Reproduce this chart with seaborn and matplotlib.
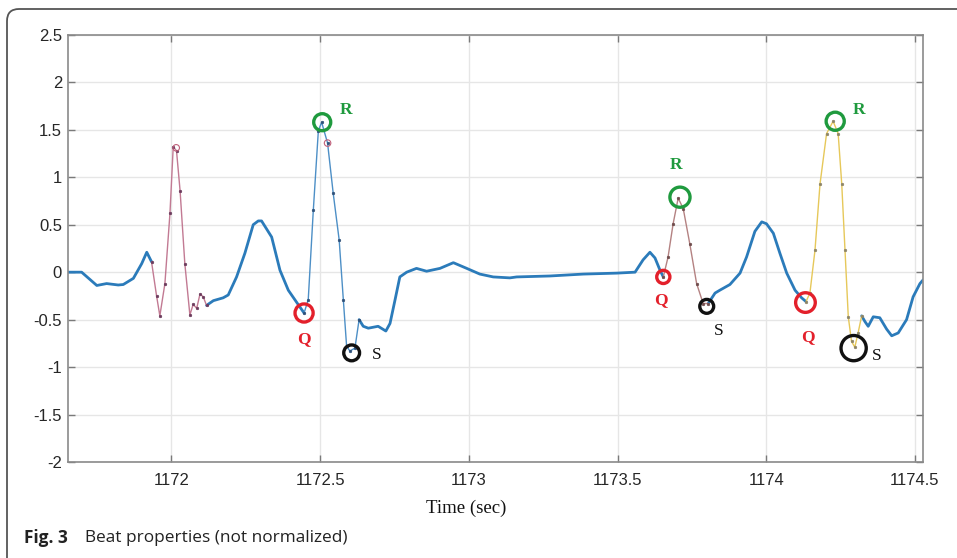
import numpy as np
import pandas as pd
import seaborn as sns
import matplotlib.pyplot as plt
from matplotlib.patches import FancyBboxPatch

# ECG trace
time_sec = [1171.653, 1171.698, 1171.749, 1171.782, 1171.821, 1171.838, 1171.872, 1171.900,
            1171.917, 1171.933, 1171.950, 1171.961, 1171.978, 1171.995, 1172.006, 1172.017,
            1172.029, 1172.045, 1172.062, 1172.073, 1172.085, 1172.096, 1172.107, 1172.118,
            1172.141, 1172.174, 1172.191, 1172.219, 1172.247, 1172.275, 1172.292, 1172.303,
            1172.337, 1172.365, 1172.393, 1172.426, 1172.446, 1172.460, 1172.477, 1172.494,
            1172.505, 1172.525, 1172.544, 1172.564, 1172.578, 1172.589, 1172.600, 1172.617,
            1172.631, 1172.645, 1172.662, 1172.695, 1172.721, 1172.735, 1172.752, 1172.768,
            1172.791, 1172.824, 1172.858, 1172.903, 1172.948, 1172.993, 1173.037, 1173.082,
            1173.138, 1173.161, 1173.273, 1173.385, 1173.497, 1173.559, 1173.586, 1173.609,
            1173.626, 1173.643, 1173.654, 1173.670, 1173.687, 1173.704, 1173.721, 1173.743,
            1173.766, 1173.788, 1173.805, 1173.828, 1173.844, 1173.878, 1173.912, 1173.934,
            1173.962, 1173.985, 1174.001, 1174.024, 1174.046, 1174.069, 1174.097, 1174.119,
            1174.134, 1174.147, 1174.164, 1174.181, 1174.203, 1174.225, 1174.242, 1174.254,
            1174.265, 1174.276, 1174.287, 1174.298, 1174.309, 1174.321, 1174.332, 1174.343,
            1174.360, 1174.382, 1174.405, 1174.422, 1174.444, 1174.472, 1174.494, 1174.517,
            1174.528]
amplitude = [0.00, 0.00, -0.14, -0.12, -0.135, -0.13, -0.065, 0.09,
             0.21, 0.11, -0.25, -0.46, -0.12, 0.62, 1.32, 1.28,
             0.86, 0.09, -0.45, -0.34, -0.38, -0.23, -0.26, -0.35,
             -0.30, -0.27, -0.24, -0.05, 0.20, 0.50, 0.54, 0.54,
             0.37, 0.02, -0.19, -0.34, -0.43, -0.29, 0.65, 1.49,
             1.58, 1.36, 0.83, 0.34, -0.29, -0.78, -0.83, -0.80,
             -0.50, -0.57, -0.59, -0.57, -0.62, -0.54, -0.29, -0.05,
             0.00, 0.04, 0.01, 0.04, 0.10, 0.04, -0.02, -0.05,
             -0.06, -0.05, -0.04, -0.02, -0.01, 0.00, 0.13, 0.21,
             0.15, 0.02, -0.05, 0.16, 0.51, 0.78, 0.67, 0.30,
             -0.12, -0.33, -0.33, -0.22, -0.19, -0.13, -0.01, 0.16,
             0.43, 0.53, 0.51, 0.41, 0.20, -0.01, -0.19, -0.27,
             -0.31, -0.22, 0.23, 0.93, 1.46, 1.59, 1.46, 0.93,
             0.23, -0.47, -0.73, -0.79, -0.64, -0.46, -0.52, -0.57,
             -0.47, -0.48, -0.60, -0.67, -0.64, -0.50, -0.26, -0.12,
             -0.08]

# QRS windows of the four beats
qrs_start = [1171.933, 1172.446, 1173.654, 1174.134]
qrs_end = [1172.118, 1172.631, 1173.805, 1174.321]

# detected Q, R, S points (beats 2-4)
q_time = [1172.446, 1173.654, 1174.132]
q_amp = [-0.43, -0.05, -0.32]
r_time = [1172.507, 1173.710, 1174.232]
r_amp = [1.58, 0.79, 1.59]
s_time = [1172.606, 1173.800, 1174.294]
s_amp = [-0.85, -0.36, -0.80]

# small peak markers
pk_time = [1172.016, 1172.525]
pk_amp = [1.31, 1.36]

x_ticks = [1172, 1172.5, 1173, 1173.5, 1174, 1174.5]
y_ticks = [-2, -1.5, -1, -0.5, 0, 0.5, 1, 1.5, 2, 2.5]

sns.set_style("whitegrid")
plt.rcParams['font.family'] = ['Liberation Sans', 'DejaVu Sans']
plt.rcParams['axes.unicode_minus'] = False

df = pd.DataFrame({'t': time_sec, 'amp': amplitude})

fig = plt.figure(figsize=(9.57, 5.58), dpi=100)
ax = fig.add_axes([0.0707, 0.172, 0.894, 0.7655])

blue = '#2b7bba'
qrs_colors = ['#c27a93', '#4d8fc6', '#b48282', '#e6c85a']
dot_colors = ['#6b3a5c', '#2d4f78', '#6e4b4b', '#8c8466']

# baseline pieces between the QRS windows
bounds = [df.t.min()] + [v for pair in zip(qrs_start, qrs_end) for v in pair] + [df.t.max()]
for lo, hi in zip(bounds[0::2], bounds[1::2]):
    piece = df[(df.t >= lo) & (df.t <= hi)]
    sns.lineplot(data=piece, x='t', y='amp', color=blue, lw=2.0, sort=False,
                 estimator=None, ax=ax)

# QRS complexes, thin dotted traces
for lo, hi, c, dc in zip(qrs_start, qrs_end, qrs_colors, dot_colors):
    piece = df[(df.t >= lo) & (df.t <= hi)]
    sns.lineplot(data=piece, x='t', y='amp', color=c, lw=1.0, sort=False, estimator=None,
                 marker='o', markersize=1.8, markeredgecolor=dc, markerfacecolor=dc,
                 markeredgewidth=0.5, ax=ax)

sns.scatterplot(x=pk_time, y=pk_amp, s=22, marker='o', facecolor='none',
                edgecolor='#c0607a', linewidth=0.8, ax=ax, zorder=4)

q_sizes = [170, 90, 200]
r_sizes = [150, 210, 170]
s_sizes = [130, 100, 330]
sns.scatterplot(x=q_time, y=q_amp, s=q_sizes, marker='o', facecolor='none',
                edgecolor='#e3202b', linewidth=2.4, ax=ax, zorder=5)
sns.scatterplot(x=r_time, y=r_amp, s=r_sizes, marker='o', facecolor='none',
                edgecolor='#1f9a3e', linewidth=2.4, ax=ax, zorder=5)
sns.scatterplot(x=s_time, y=s_amp, s=s_sizes, marker='o', facecolor='none',
                edgecolor='#111111', linewidth=2.4, ax=ax, zorder=5)

serif = ['Liberation Serif', 'DejaVu Serif']
q_off = [(0, -19), (-2, -17), (1.5, -25)]
r_off = [(17, 8.5), (-3, 23), (17, 8)]
s_off = [(18, -1.5), (9, -17.5), (17, -6)]
for t, a, off in zip(q_time, q_amp, q_off):
    ax.annotate('Q', (t, a), xytext=off, textcoords='offset points', ha='center', va='center',
                fontsize=12.5, fontweight='bold', color='#e3202b', family=serif)
for t, a, off in zip(r_time, r_amp, r_off):
    ax.annotate('R', (t, a), xytext=off, textcoords='offset points', ha='center', va='center',
                fontsize=12.5, fontweight='bold', color='#1f9a3e', family=serif)
for t, a, off in zip(s_time, s_amp, s_off):
    ax.annotate('S', (t, a), xytext=off, textcoords='offset points', ha='center', va='center',
                fontsize=12.5, color='#111111', family=serif)

ax.set_xlim(1171.651, 1174.528)
ax.set_ylim(-2, 2.5)
ax.set_xticks(x_ticks)
ax.set_xticklabels([f'{v:g}' for v in x_ticks])
ax.set_yticks(y_ticks)
ax.set_yticklabels([f'{v:g}' for v in y_ticks])
ax.set_xlabel('')
ax.set_ylabel('')
ax.grid(True, color='#e6e6e6', lw=1.0)
ax.tick_params(axis='both', which='both', direction='in', length=5, width=1,
               color='#7a7a7a', labelsize=12, labelcolor='#262626',
               top=True, right=True, bottom=True, left=True)
ax.tick_params(axis='x', pad=8)
ax.tick_params(axis='y', pad=4)
for sp in ax.spines.values():
    sp.set_visible(True)
    sp.set_color('#8a8a8a')
    sp.set_linewidth(1.2)

fig.text(466 / 957, 1 - 508 / 558, 'Time (sec)', ha='center', va='center',
         fontsize=13.5, family=serif, color='#111111')

# caption
cap_font = ['Open Sans', 'DejaVu Sans']
fig.text(24 / 957, 1 - 538 / 558, 'Fig. 3', ha='left', va='center', fontsize=12.4,
         fontweight='bold', family=cap_font, color='#222222')
fig.text(85 / 957, 1 - 538 / 558, 'Beat properties (not normalized)', ha='left', va='center',
         fontsize=12.4, family=cap_font, color='#222222')

# rounded frame around the figure
frame = FancyBboxPatch((0.07, -0.3), 9.8, 5.79, boxstyle='round,pad=0,rounding_size=0.12',
                       transform=fig.dpi_scale_trans, fill=False, edgecolor='#555555', lw=1.3)
fig.add_artist(frame)

fig.savefig('out.png', dpi=100)
